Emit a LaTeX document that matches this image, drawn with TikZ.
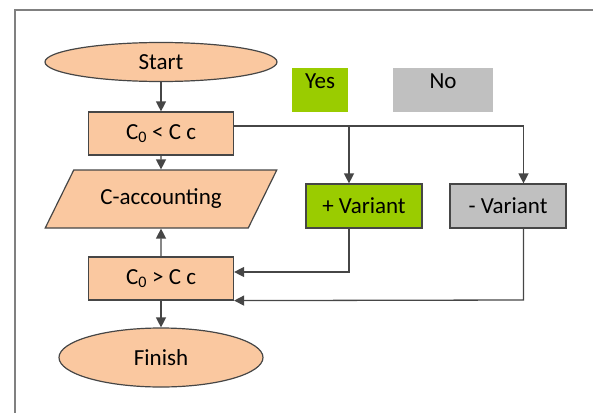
\documentclass[tikz,border=0pt]{standalone}
\usepackage{fontspec}
\setmainfont{Carlito}
\usepackage{tikz}
\usetikzlibrary{shapes.geometric,arrows.meta}
\definecolor{peach}{RGB}{250,200,160}
\definecolor{lime}{RGB}{154,204,0}
\definecolor{silver}{RGB}{192,192,192}
\definecolor{edge}{RGB}{70,70,70}
\tikzset{
    box/.style={draw=edge, line width=1.2pt, rectangle, minimum width=145pt, minimum height=43pt, inner sep=0pt, fill=peach},
    terminal/.style={draw=edge, line width=1.2pt, ellipse, inner sep=0pt, fill=peach},
    variant/.style={draw=edge, line width=1.2pt, rectangle, minimum width=116pt, minimum height=44pt, inner sep=0pt},
    legend/.style={rectangle, minimum height=44pt, inner sep=0pt, text depth=18pt},
    flow/.style={draw=edge, line width=1.3pt, -{Triangle[length=10pt,width=10pt]}}
}

\begin{document}
\begin{tikzpicture}[x=1pt,y=-1pt,font=\fontsize{23}{27}\selectfont]
\useasboundingbox (0,0) rectangle (593,412);
\clip (0,0) rectangle (593,412);
% outer frame
\draw[line width=2pt, color=gray] (15,430) -- (15,10) -- (620,10);

\node at (161,62)[terminal, minimum width=232pt, minimum height=39pt] (start) {Start};
\node at (161,133.5)[box] (less) {C\textsubscript{0} < C c};
\node at (161,199)[draw=edge, line width=1.2pt, fill=peach, trapezium, trapezium left angle=45, trapezium right angle=135,
    trapezium stretches=true, minimum width=232pt, minimum height=58pt, inner sep=0pt] (acc) {C-accounting};
\node at (161,278.5)[box] (more) {C\textsubscript{0} > C c};
\node at (161,357.5)[terminal, minimum width=204pt, minimum height=59pt] (finish) {Finish};

% legend
\node at (320,90)[legend, fill=lime, minimum width=56pt] (yes) {Yes};
\node at (443,90)[legend, fill=silver, minimum width=100pt] (no) {No};

\node at (364,206)[variant, fill=lime] (plus) {+ Variant};
\node at (508,206)[variant, fill=silver] (minus) {- Variant};

% main line
\draw[flow] (start) -- (less);
\draw[flow] (less) -- (acc);
\draw[flow] (more) -- (acc);
\draw[flow] (more) -- (finish);

% branches
\coordinate (pin) at (349,126);
\coordinate (min) at (523.5,126);
\draw[flow] (less.east |- min) -- (min) -- (min |- minus.north);
\draw[flow] (pin) -- (pin |- plus.north);

% back to the check
\coordinate (pout) at (349,272);
\coordinate (mout) at (523.5,300);
\draw[flow] (pout |- plus.south) -- (pout) -- (more.east |- pout);
\draw[flow] (mout |- minus.south) -- (mout) -- (more.south east);

\end{tikzpicture}
\end{document}
